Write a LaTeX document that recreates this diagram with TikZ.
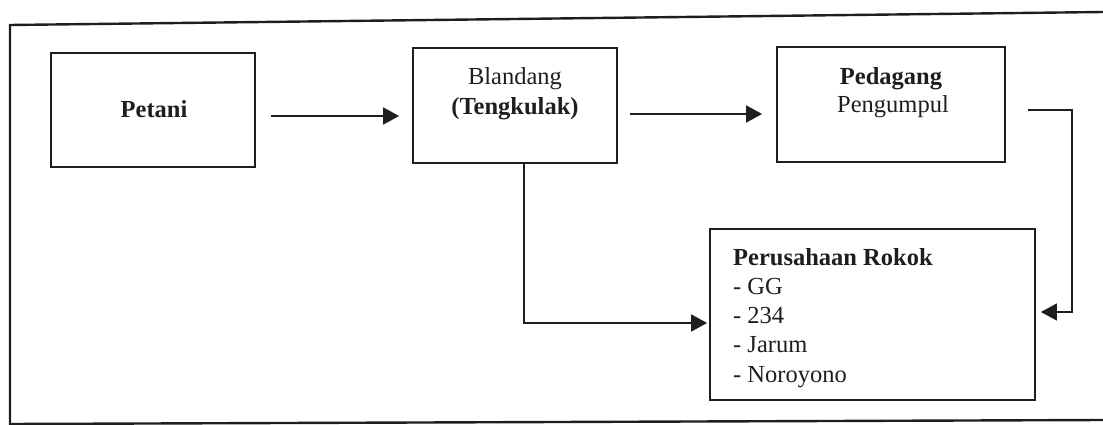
\documentclass[tikz,border=0pt]{standalone}
\usepackage{fontspec}
\setmainfont{Liberation Serif}
\usetikzlibrary{arrows.meta}
\definecolor{ink}{HTML}{1E1E1E}
\tikzset{
  box/.style={draw=ink, line width=1.8pt, rectangle, inner sep=0pt},
  txt/.style={text=ink, inner sep=0pt, font=\fontsize{24.5}{29}\selectfont},
  arr/.style={draw=ink, line width=1.8pt, -{Triangle[length=16pt,width=17pt]}},
  frameline/.style={draw=ink, line width=2.4pt},
}
\begin{document}
\begin{tikzpicture}[x=1pt,y=-1pt]
\useasboundingbox (0,0) rectangle (1103,425);
% outer frame
\coordinate (ftr) at (1103,12);
\coordinate (ftl) at (10,25);
\coordinate (fbl) at (10,424);
\coordinate (fbr) at (1103,420);
\draw[frameline] (ftr) -- (ftl) -- (fbl) -- (fbr);

% boxes
\node[box, minimum width=204pt, minimum height=114pt] (petani) at (153,110) {};
\node[box, minimum width=204pt, minimum height=115pt] (blandang) at (515,105.5) {};
\node[box, minimum width=228pt, minimum height=115pt] (pedagang) at (891,104.5) {};
\node[box, minimum width=325pt, minimum height=171pt] (perusahaan) at (872.5,314.5) {};

% texts
\node[txt, anchor=base] (petaniT) at (154,118) {\textbf{Petani}};
\node[txt, anchor=base] (blandangT1) at (515,85) {Blandang};
\node[txt, anchor=base] (blandangT2) at (515,115) {\textbf{(Tengkulak)}};
\node[txt, anchor=base] (pedagangT1) at (891,85) {\textbf{Pedagang}};
\node[txt, anchor=base] (pedagangT2) at (893,113) {Pengumpul};
\node[txt, anchor=base west] (perT1) at (733,265) {\textbf{Perusahaan Rokok}};
\node[txt, anchor=base west] (perT2) at (733,294) {- GG};
\node[txt, anchor=base west] (perT3) at (733,323) {- 234};
\node[txt, anchor=base west] (perT4) at (733,352) {- Jarum};
\node[txt, anchor=base west] (perT5) at (733,382) {- Noroyono};

% connectors
\draw[arr] ([xshift=15pt,yshift=-6pt]petani.east) -- ([xshift=-13pt,yshift=-10.5pt]blandang.west);
\draw[arr] ([xshift=12pt,yshift=-8.5pt]blandang.east) -- ([xshift=-14pt,yshift=-9.5pt]pedagang.west);
\coordinate (pc1) at (1072,110);
\coordinate (pc2) at (1072,312);
\draw[arr, line width=1.5pt] ([xshift=22pt,yshift=-5.5pt]pedagang.east) -- (pc1) -- (pc2) -- ([xshift=5pt,yshift=2.5pt]perusahaan.east);
\draw[arr, line width=1.5pt] ([xshift=9pt]blandang.south) |- ([xshift=-2pt,yshift=-8.5pt]perusahaan.west);
\end{tikzpicture}
\end{document}
